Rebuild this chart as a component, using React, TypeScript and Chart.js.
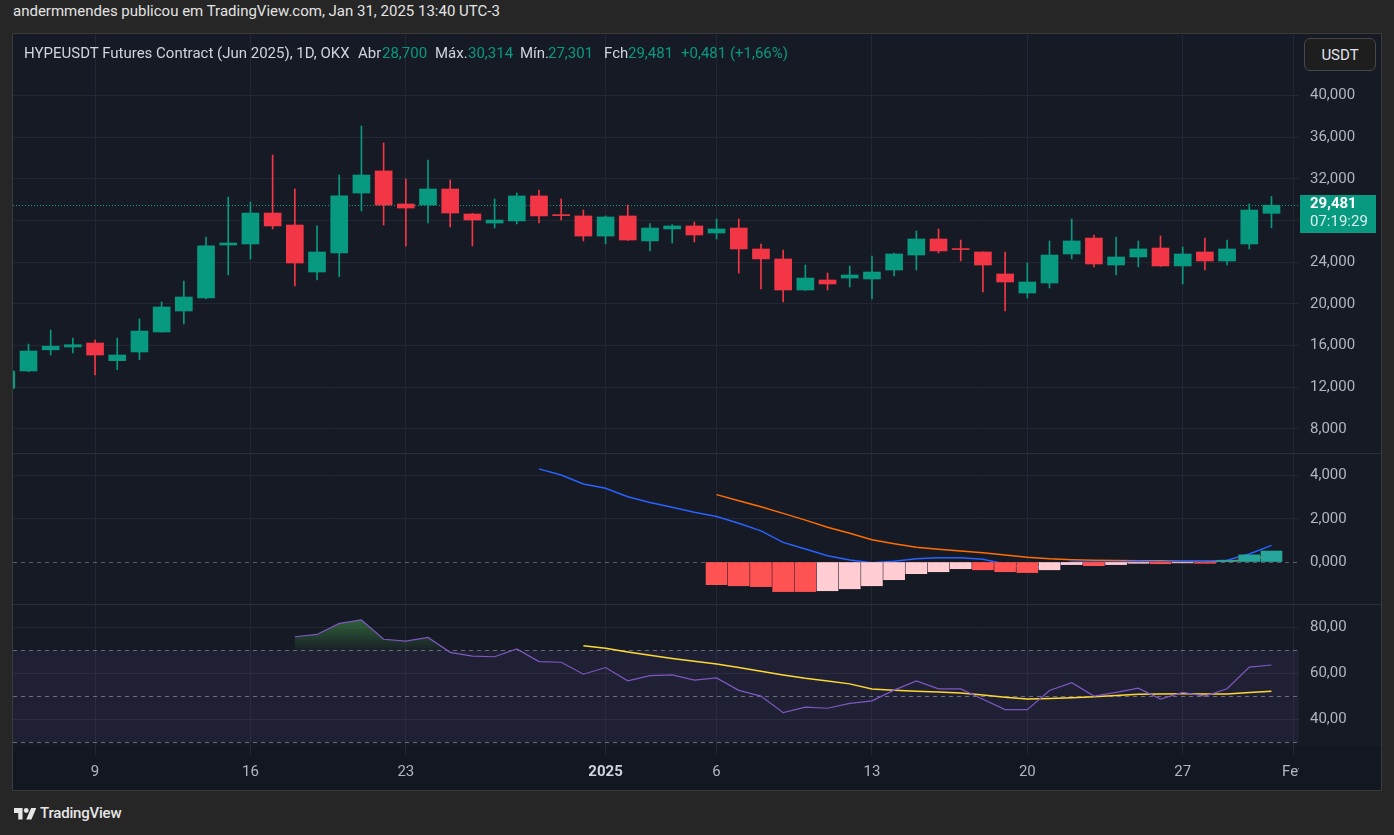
import React, { useEffect, useRef } from "react";
import { Chart, registerables } from "chart.js";

Chart.register(...registerables);

// Day numbers: December d -> d, January d -> 31 + d, February 1 -> 63
const candleDays = [5, 6, 7, 8, 9, 10, 11, 12, 13, 14, 15, 16, 17, 18, 19, 20, 21, 22, 23, 24, 25, 26, 27, 28, 29, 30, 31,
  32, 33, 34, 35, 36, 37, 38, 39, 40, 41, 42, 43, 44, 45, 46, 47, 48, 49, 50, 51, 52, 53, 54, 55, 56, 57, 58, 59, 60, 61, 62];

const opens = [11.9, 13.565, 15.6, 15.87, 16.25, 14.56, 15.39, 17.31, 19.325, 20.57, 25.66, 25.76, 28.73, 27.58, 23.07, 24.89, 30.65, 32.77, 29.6, 29.5, 31.04, 28.64, 27.77, 27.97, 30.37, 28.54, 28.45,
  26.52, 28.45, 26.05, 27.2, 27.49, 26.81, 27.29, 25.28, 24.32, 21.34, 22.3, 22.49, 22.4, 23.26, 24.7, 26.24, 25.28, 24.99, 22.88, 21.05, 22.01, 24.8, 26.33, 23.74, 24.51, 25.37, 23.65, 24.99, 24.13, 25.76, 28.7];
const highs = [13.7, 16.15, 17.5, 16.73, 16.54, 16.73, 18.56, 20.19, 22.2, 26.43, 30.27, 29.79, 34.3, 31.04, 27.49, 32.38, 37.09, 35.45, 32.0, 33.82, 31.9, 28.7, 30.08, 30.65, 30.94, 30.08, 29.02,
  28.45, 29.5, 27.71, 27.61, 27.87, 28.16, 28.16, 25.76, 25.18, 23.74, 22.97, 23.65, 24.6, 24.89, 27.0, 27.2, 26.14, 25.0, 24.99, 23.93, 26.05, 28.16, 26.62, 26.43, 26.05, 26.53, 25.47, 26.33, 26.14, 29.6, 30.314];
const lows = [11.8, 13.5, 15.1, 15.29, 13.18, 13.69, 14.65, 17.3, 18.08, 20.48, 22.78, 24.32, 27.2, 21.73, 22.3, 22.62, 28.93, 27.58, 25.57, 27.77, 27.39, 25.57, 27.29, 27.68, 27.77, 28.06, 26.05,
  25.76, 26.1, 25.09, 25.85, 25.95, 26.24, 22.97, 21.44, 20.19, 21.3, 21.34, 21.63, 20.48, 22.69, 23.26, 24.89, 24.13, 21.15, 19.33, 20.57, 21.53, 24.32, 23.55, 22.78, 23.55, 23.6, 21.92, 23.26, 23.74, 25.28, 27.301];
const closes = [13.56, 15.485, 15.95, 16.09, 15.1, 15.1, 17.4, 19.71, 20.67, 25.57, 25.85, 28.73, 27.49, 23.93, 24.99, 30.37, 32.38, 29.5, 29.21, 31.04, 28.73, 28.06, 28.06, 30.37, 28.45, 28.48, 26.52,
  28.35, 26.14, 27.29, 27.49, 26.62, 27.2, 25.28, 24.32, 21.34, 22.49, 21.92, 22.78, 23.07, 24.8, 26.24, 25.09, 25.22, 23.74, 22.11, 22.11, 24.7, 26.05, 23.84, 24.51, 25.28, 23.65, 24.8, 24.13, 25.28, 29.02, 29.481];

const macdDays = [29, 30, 31, 32, 33, 34, 35, 36, 37, 38, 39, 40, 41, 42, 43, 44, 45, 46, 47, 48, 49, 50, 51, 52, 53, 54, 55, 56, 57, 58, 59, 60, 61, 62];
const macdLine = [4.31, 4.03, 3.61, 3.41, 3.02, 2.75, 2.53, 2.3, 2.11, 1.79, 1.44, 0.91, 0.6, 0.29, 0.09, -0.03, 0.03, 0.15, 0.2, 0.2, 0.13, -0.09, -0.26, -0.17, 0.0, 0.0, 0.0, 0.03, 0.01, 0.03, 0.03, 0.08, 0.37, 0.77];
const signalDays = [37, 38, 39, 40, 41, 42, 43, 44, 45, 46, 47, 48, 49, 50, 51, 52, 53, 54, 55, 56, 57, 58, 59, 60, 61, 62];
const signalLine = [3.12, 2.84, 2.56, 2.25, 1.94, 1.61, 1.33, 1.03, 0.85, 0.68, 0.59, 0.51, 0.43, 0.32, 0.22, 0.15, 0.11, 0.08, 0.07, 0.06, 0.06, 0.04, 0.04, 0.04, 0.12, 0.29];
const histValues = [-1.05, -1.1, -1.14, -1.37, -1.37, -1.33, -1.24, -1.1, -0.82, -0.54, -0.45, -0.31, -0.36, -0.45, -0.49, -0.36, -0.12, -0.17, -0.12, -0.06, -0.08, -0.04, -0.06, 0.07, 0.33, 0.51];

const rsiDays = [18, 19, 20, 21, 22, 23, 24, 25, 26, 27, 28, 29, 30, 31, 32, 33, 34, 35, 36, 37, 38, 39, 40, 41, 42, 43, 44, 45, 46, 47, 48, 49, 50, 51, 52, 53, 54, 55, 56, 57, 58, 59, 60, 61, 62];
const rsiValues = [75.9, 76.9, 81.7, 83.2, 74.8, 74.0, 75.6, 69.1, 67.5, 67.2, 70.6, 65.1, 64.8, 59.6,
  62.5, 56.7, 59.0, 59.3, 57.0, 58.0, 52.6, 50.1, 42.9, 45.3, 44.8, 46.9, 48.0, 52.7, 56.7, 53.2, 53.2, 48.7, 44.2, 44.2, 52.5, 55.9, 50.1, 51.7, 53.5, 48.8, 51.7, 50.1, 53.3, 62.7, 63.6];
const rsiMaDays = [31, 32, 33, 34, 35, 36, 37, 38, 39, 40, 41, 42, 43, 44, 45, 46, 47, 48, 49, 50, 51, 52, 53, 54, 55, 56, 57, 58, 59, 60, 61, 62];
const rsiMa = [72.0, 70.9, 69.3, 67.8, 66.4, 65.2, 64.0, 62.5, 60.9, 59.3, 57.8, 56.7, 55.4, 53.2, 52.6, 52.2, 51.9, 51.4, 50.6, 49.6, 48.8, 49.0, 49.4, 49.8, 50.4, 50.9, 51.0, 51.1, 51.0, 51.0, 51.6, 52.2];

const priceTicks = [8, 12, 16, 20, 24, 28, 32, 36, 40];
const macdTicks = [0, 2, 4];
const rsiTicks = [40, 60, 80];
const rsiLevels = [70, 50, 30];
const xTickDays = [9, 16, 23, 32, 37, 44, 51, 58, 63];
const xTickLabels = ["9", "16", "23", "2025", "6", "13", "20", "27", "Fev"];
const countdown = "07:19:29";

const UP = "#089981";
const DOWN = "#f23645";
const GRID = "#232733";
const TEXT = "#b2b5be";
const FONT = "Roboto, 'Noto Sans', sans-serif";

const fmt = (v: number, d: number) => v.toFixed(d).replace(".", ",");

export default function App() {
  const ref = useRef<HTMLCanvasElement | null>(null);

  useEffect(() => {
    const canvas = ref.current;
    if (!canvas) return;
    Chart.defaults.font.family = FONT;
    Chart.defaults.font.size = 15;
    const lastClose = closes[closes.length - 1];

    const candleColor = (i: number) => (closes[i] >= opens[i] ? UP : DOWN);
    const histColors = histValues.map((v, i) => {
      const prev = i > 0 ? histValues[i - 1] : v;
      if (v >= 0) return prev <= v ? "#26a69a" : "#b2dfdb";
      return prev < v ? "#ffcdd2" : "#ff5252";
    });

    const rsiFill = (c: any) => {
      const ch = c.chart;
      const s = ch && ch.scales ? ch.scales.yRsi : null;
      let above: any = "rgba(67,160,71,0.3)";
      if (s && ch.chartArea && isFinite(s.getPixelForValue(84))) {
        const g = ch.ctx.createLinearGradient(0, s.getPixelForValue(84), 0, s.getPixelForValue(70));
        g.addColorStop(0, "rgba(76,175,80,0.5)");
        g.addColorStop(1, "rgba(76,175,80,0.04)");
        above = g;
      }
      return { target: { value: 70 }, above, below: "rgba(0,0,0,0)" };
    };

    const overlays = {
      id: "overlays",
      beforeDraw(chart: any) {
        const { ctx, chartArea, width, height } = chart;
        ctx.save();
        ctx.fillStyle = "#161a25";
        ctx.fillRect(0, 0, width, height);
        ctx.fillStyle = "#131722";
        ctx.fillRect(0, chartArea.bottom, width, height - chartArea.bottom);
        ctx.restore();
      },
      beforeDatasetsDraw(chart: any) {
        const { ctx, chartArea: a, scales } = chart;
        const r = scales.yRsi, m = scales.yMacd, p = scales.y;
        ctx.save();
        const y70 = r.getPixelForValue(70), y30 = r.getPixelForValue(30);
        ctx.fillStyle = "rgba(126,87,194,0.1)";
        ctx.fillRect(a.left, y70, a.right - a.left, y30 - y70);
        ctx.lineWidth = 1;
        ctx.setLineDash([4, 4]);
        ctx.strokeStyle = "rgba(120,123,134,0.85)";
        rsiLevels.forEach((lv) => {
          const y = Math.round(r.getPixelForValue(lv)) + 0.5;
          ctx.beginPath();
          ctx.moveTo(a.left, y);
          ctx.lineTo(a.right, y);
          ctx.stroke();
        });
        ctx.strokeStyle = "rgba(120,123,134,0.7)";
        const y0 = Math.round(m.getPixelForValue(0)) + 0.5;
        ctx.beginPath();
        ctx.moveTo(a.left, y0);
        ctx.lineTo(a.right, y0);
        ctx.stroke();
        ctx.setLineDash([1, 2]);
        ctx.strokeStyle = UP;
        const yp = Math.round(p.getPixelForValue(lastClose)) + 0.5;
        ctx.beginPath();
        ctx.moveTo(a.left, yp);
        ctx.lineTo(a.right, yp);
        ctx.stroke();
        ctx.restore();
      },
      afterDraw(chart: any) {
        const { ctx, chartArea: a, scales, width, height } = chart;
        ctx.save();
        ctx.fillStyle = "#131722";
        ctx.fillRect(a.right, a.bottom, width - a.right, height - a.bottom);
        ctx.strokeStyle = "#2a2e39";
        ctx.lineWidth = 1;
        [scales.yMacd.top, scales.yRsi.top].forEach((t: number) => {
          const y = Math.round(t) + 0.5;
          ctx.beginPath();
          ctx.moveTo(0, y);
          ctx.lineTo(width, y);
          ctx.stroke();
        });
        const py = scales.y.getPixelForValue(lastClose);
        ctx.fillStyle = UP;
        ctx.fillRect(a.right + 1, Math.round(py) - 10, 76, 38);
        ctx.textBaseline = "middle";
        ctx.textAlign = "left";
        ctx.fillStyle = "#ffffff";
        ctx.font = "bold 15px " + FONT;
        ctx.fillText(fmt(lastClose, 3), a.right + 11, Math.round(py) - 0.5);
        ctx.font = "15px " + FONT;
        ctx.fillStyle = "rgba(255,255,255,0.85)";
        ctx.fillText(countdown, a.right + 11, Math.round(py) + 17.5);
        ctx.restore();
      },
    };

    const yCommon = (ticks: number[], digits: number, hideZero: boolean, extra: any) => ({
      type: "linear",
      position: "right",
      stack: "panes",
      afterBuildTicks: (s: any) => {
        s.ticks = ticks.map((v) => ({ value: v }));
      },
      afterFit: (s: any) => {
        s.width = 82;
      },
      border: { display: false },
      grid: {
        drawTicks: true,
        tickLength: 20,
        tickColor: "rgba(0,0,0,0)",
        color: (c: any) => (hideZero && c.tick && c.tick.value === 0 ? "rgba(0,0,0,0)" : GRID),
      },
      ticks: {
        padding: -9,
        color: TEXT,
        font: { size: 15, family: FONT },
        callback: (v: any) => fmt(Number(v), digits),
      },
      ...extra,
    });

    const chart = new Chart(canvas, {
      type: "line",
      data: {
        datasets: [
          {
            type: "bar",
            label: "wicks",
            yAxisID: "y",
            data: candleDays.map((d, i) => ({ x: d, y: [lows[i], highs[i]] })) as any,
            backgroundColor: candleDays.map((_, i) => candleColor(i)),
            barThickness: 1,
            grouped: false,
            borderWidth: 0,
          } as any,
          {
            type: "bar",
            label: "bodies",
            yAxisID: "y",
            data: candleDays.map((d, i) => ({ x: d, y: [opens[i], closes[i]] })) as any,
            backgroundColor: candleDays.map((_, i) => candleColor(i)),
            barThickness: 17,
            minBarLength: 1,
            grouped: false,
            borderWidth: 0,
          } as any,
          {
            type: "bar",
            label: "hist",
            yAxisID: "yMacd",
            data: signalDays.map((d, i) => ({ x: d, y: histValues[i] })),
            backgroundColor: histColors,
            barThickness: 21,
            grouped: false,
            borderWidth: 0,
          } as any,
          {
            type: "line",
            label: "MACD",
            yAxisID: "yMacd",
            data: macdDays.map((d, i) => ({ x: d, y: macdLine[i] })),
            borderColor: "#2962ff",
            borderWidth: 1.5,
            pointRadius: 0,
            tension: 0,
          } as any,
          {
            type: "line",
            label: "Signal",
            yAxisID: "yMacd",
            data: signalDays.map((d, i) => ({ x: d, y: signalLine[i] })),
            borderColor: "#ff6d00",
            borderWidth: 1.5,
            pointRadius: 0,
            tension: 0,
          } as any,
          {
            type: "line",
            label: "RSI",
            yAxisID: "yRsi",
            data: rsiDays.map((d, i) => ({ x: d, y: rsiValues[i] })),
            borderColor: "#7e57c2",
            borderWidth: 1.2,
            pointRadius: 0,
            tension: 0,
            fill: rsiFill,
          } as any,
          {
            type: "line",
            label: "RSI MA",
            yAxisID: "yRsi",
            data: rsiMaDays.map((d, i) => ({ x: d, y: rsiMa[i] })),
            borderColor: "#fdd835",
            borderWidth: 1.5,
            pointRadius: 0,
            tension: 0,
          } as any,
        ],
      },
      options: {
        responsive: false,
        animation: false,
        devicePixelRatio: 1,
        events: [],
        layout: { autoPadding: false, padding: { top: 1, left: 0, right: 0, bottom: 0 } },
        plugins: {
          legend: { display: false },
          tooltip: { enabled: false },
        },
        scales: {
          x: {
            type: "linear",
            min: 5.303,
            max: 63.24,
            offset: false,
            afterBuildTicks: (s: any) => {
              s.ticks = xTickDays.map((v) => ({ value: v }));
            },
            afterFit: (s: any) => {
              s.height = 44;
            },
            border: { display: false },
            grid: { color: GRID, offset: false, drawTicks: true, tickLength: 9, tickColor: GRID },
            ticks: {
              autoSkip: false,
              maxRotation: 0,
              padding: 8,
              color: (c: any) => (c.tick && c.tick.value === 32 ? "#d1d4dc" : TEXT),
              font: (c: any) => ({ size: 15, family: FONT, weight: c.tick && c.tick.value === 32 ? "bold" : "normal" }),
              callback: (v: any) => {
                const k = xTickDays.indexOf(Number(v));
                return k >= 0 ? xTickLabels[k] : "";
              },
            },
          } as any,
          y: yCommon(priceTicks, 3, false, { stackWeight: 418, min: 5.694, max: 45.82 }) as any,
          yMacd: yCommon(macdTicks, 3, true, { stackWeight: 151, min: -1.944, max: 5.046 }) as any,
          yRsi: yCommon(rsiTicks, 2, false, { stackWeight: 142, min: 28.39, max: 90.13 }) as any,
        },
      } as any,
      plugins: [overlays as any],
    });
    return () => chart.destroy();
  }, []);

  const legendItem = (left: number, text: string, color: string) => (
    <span style={{ position: "absolute", left, top: 0, color, whiteSpace: "nowrap" }}>{text}</span>
  );

  return (
    <div style={{ position: "fixed", left: 0, top: 0, width: 1394, height: 835, background: "#262626", overflow: "hidden", fontFamily: FONT }}>
      <div style={{ position: "absolute", left: 13, top: 1, fontSize: 15, lineHeight: "20px", color: "#e3e3e3", whiteSpace: "nowrap" }}>
        andermmendes publicou em TradingView.com, Jan 31, 2025 13:40 UTC-3
      </div>
      <div style={{ position: "absolute", left: 12, top: 33, width: 1370, height: 758, border: "1px solid #3a3a3a", boxSizing: "border-box" }} />
      <canvas ref={ref} width={1368} height={756} style={{ position: "absolute", left: 13, top: 34, width: 1368, height: 756 }} />
      <div style={{ position: "absolute", left: 0, top: 43, height: 20, fontSize: 15, lineHeight: "20px", width: 1394 }}>
        {legendItem(24, "HYPEUSDT Futures Contract (Jun 2025), 1D, OKX", "#d1d4dc")}
        {legendItem(358, "Abr", "#d1d4dc")}
        {legendItem(382, "28,700", UP)}
        {legendItem(435, "Máx.", "#d1d4dc")}
        {legendItem(468, "30,314", UP)}
        {legendItem(520, "Mín.", "#d1d4dc")}
        {legendItem(548, "27,301", UP)}
        {legendItem(604, "Fch", "#d1d4dc")}
        {legendItem(628, "29,481", UP)}
        {legendItem(681, "+0,481 (+1,66%)", UP)}
      </div>
      <div style={{ position: "absolute", left: 1304, top: 38, width: 72, height: 33, boxSizing: "border-box", border: "1px solid #474747", borderRadius: 6, background: "#1e1e1e", color: "#e0e3eb", fontSize: 15, display: "flex", alignItems: "center", justifyContent: "center" }}>
        USDT
      </div>
      <svg style={{ position: "absolute", left: 14, top: 806 }} width="22" height="15" viewBox="0 0 36 24">
        <path d="M14 22H7V11H0V3h14v19zM28.5 22h-8.5L28 3h8.5L28.5 22z" fill="#e6e6e6" />
        <circle cx="20" cy="7" r="4" fill="#e6e6e6" />
      </svg>
      <div style={{ position: "absolute", left: 40, top: 803, fontSize: 15, lineHeight: "20px", fontWeight: 500, color: "#e6e6e6", letterSpacing: -0.2 }}>
        TradingView
      </div>
    </div>
  );
}
